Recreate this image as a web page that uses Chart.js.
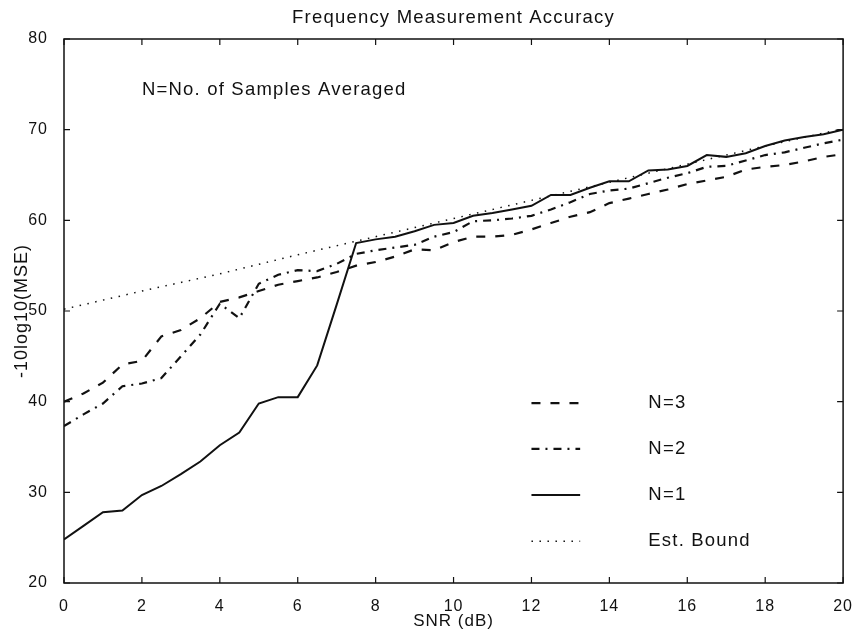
<!DOCTYPE html>
<html>
<head>
<meta charset="utf-8">
<title>Frequency Measurement Accuracy</title>
<script src="https://cdn.jsdelivr.net/npm/chart.js@4.4.1/dist/chart.umd.min.js"></script>
<style>
  html, body { margin: 0; padding: 0; background: #fff; }
  #wrap { width: 858px; height: 631px; }
</style>
</head>
<body>
<div id="wrap"><canvas id="accChart" width="858" height="631"></canvas></div>
<script>
// SNR sweep (dB)
const snr = [0, 0.5, 1, 1.5, 2, 2.5, 3, 3.5, 4, 4.5, 5, 5.5, 6, 6.5, 7, 7.5, 8, 8.5, 9, 9.5, 10,
             10.5, 11, 11.5, 12, 12.5, 13, 13.5, 14, 14.5, 15, 15.5, 16, 16.5, 17, 17.5, 18, 18.5, 19, 19.5, 20];

// -10log10(MSE) for each number of averaged samples
const n3 = [40.0, 40.9, 42.1, 44.1, 44.5, 47.2, 47.9, 49.2, 51.0, 51.5, 52.2, 52.9, 53.3, 53.7, 54.3, 55.0, 55.4, 56.0, 56.8, 56.7, 57.6,
            58.2, 58.2, 58.4, 59.0, 59.7, 60.4, 60.9, 61.9, 62.4, 62.9, 63.4, 64.0, 64.4, 64.8, 65.6, 65.9, 66.1, 66.5, 67.0, 67.3];
const n2 = [37.3, 38.6, 39.8, 41.7, 42.0, 42.6, 45.0, 47.4, 50.8, 49.2, 53.0, 54.0, 54.5, 54.4, 55.2, 56.3, 56.7, 57.0, 57.3, 58.2, 58.7,
            59.9, 60.0, 60.2, 60.5, 61.2, 62.0, 62.9, 63.3, 63.5, 64.1, 64.7, 65.2, 65.9, 66.0, 66.6, 67.2, 67.5, 68.0, 68.5, 68.9];
const n1 = [24.8, 26.3, 27.8, 28.0, 29.7, 30.7, 32.0, 33.4, 35.2, 36.6, 39.8, 40.5, 40.5, 44.0, 50.7, 57.5, 57.9, 58.2, 58.8, 59.5, 59.7,
            60.5, 60.8, 61.2, 61.6, 62.8, 62.8, 63.6, 64.3, 64.3, 65.5, 65.6, 66.0, 67.2, 67.0, 67.4, 68.2, 68.8, 69.2, 69.5, 70.0];

// estimated bound, read at every 2 dB
const boundSnr = [0, 2, 4, 6, 8, 10, 12, 14, 16, 18, 20];
const bound = [50.2, 52.2, 54.1, 56.2, 58.2, 60.2, 62.2, 64.2, 66.2, 68.2, 70.1];

const xTicks = [0, 2, 4, 6, 8, 10, 12, 14, 16, 18, 20];
const yTicks = [20, 30, 40, 50, 60, 70, 80];

const FONT = '"Liberation Sans", Arial, Helvetica, sans-serif';
const INK = '#111';

function pts(xs, ys) {
  return xs.map((x, i) => ({ x: x, y: ys[i] }));
}

// the old plotter font runs wide, so space all text out a little
const spacing = {
  id: 'spacing',
  beforeDraw(chart) { chart.ctx.letterSpacing = '1px'; }
};

// outer box plus MATLAB style inward ticks on all four sides
const frameTicks = {
  id: 'frameTicks',
  afterDatasetsDraw(chart) {
    const { ctx, chartArea: a, scales: { x, y } } = chart;
    ctx.save();
    ctx.strokeStyle = INK;
    ctx.lineWidth = 1.5;
    ctx.strokeRect(a.left, a.top, a.right - a.left, a.bottom - a.top);
    ctx.lineWidth = 1.2;
    ctx.beginPath();
    xTicks.forEach(v => {
      const px = x.getPixelForValue(v);
      ctx.moveTo(px, a.bottom); ctx.lineTo(px, a.bottom - 6);
      ctx.moveTo(px, a.top); ctx.lineTo(px, a.top + 6);
    });
    yTicks.forEach(v => {
      const py = y.getPixelForValue(v);
      ctx.moveTo(a.left, py); ctx.lineTo(a.left + 6, py);
      ctx.moveTo(a.right, py); ctx.lineTo(a.right - 6, py);
    });
    ctx.stroke();
    ctx.restore();
  }
};

// title, note and the in-plot key
const labels = {
  id: 'labels',
  afterDraw(chart) {
    const { ctx, chartArea: a, scales: { x, y } } = chart;
    ctx.save();
    ctx.fillStyle = INK;
    ctx.font = '18.5px ' + FONT;
    ctx.letterSpacing = '1.2px';
    ctx.textBaseline = 'middle';

    ctx.textAlign = 'center';
    ctx.fillText('Frequency Measurement Accuracy', (a.left + a.right) / 2, 18);

    ctx.textAlign = 'left';
    ctx.fillText('N=No. of Samples Averaged', x.getPixelForValue(2.0), y.getPixelForValue(74.4));

    const rows = [39.85, 34.8, 29.7, 24.6];
    chart.data.datasets.forEach((ds, i) => {
      const py = y.getPixelForValue(rows[i]);
      ctx.save();
      ctx.strokeStyle = ds.borderColor;
      ctx.lineWidth = ds.borderWidth;
      ctx.setLineDash(ds.borderDash || []);
      ctx.beginPath();
      ctx.moveTo(x.getPixelForValue(12.0), py);
      ctx.lineTo(x.getPixelForValue(13.25), py);
      ctx.stroke();
      ctx.restore();
      ctx.fillText(ds.label, x.getPixelForValue(15.0), py);
    });
    ctx.restore();
  }
};

new Chart(document.getElementById('accChart'), {
  type: 'line',
  data: {
    datasets: [
      { label: 'N=3', data: pts(snr, n3), borderColor: INK, borderWidth: 2.2, borderDash: [9, 10] },
      { label: 'N=2', data: pts(snr, n2), borderColor: INK, borderWidth: 2.2, borderDash: [8, 6, 2, 6] },
      { label: 'N=1', data: pts(snr, n1), borderColor: INK, borderWidth: 2 },
      { label: 'Est. Bound', data: pts(boundSnr, bound), borderColor: INK, borderWidth: 1.5, borderDash: [1.5, 6.5] }
    ]
  },
  options: {
    responsive: false,
    animation: false,
    devicePixelRatio: 1,
    layout: { padding: { top: 39, right: 14, left: 0, bottom: 0 } },
    elements: { point: { radius: 0 }, line: { tension: 0, fill: false } },
    plugins: {
      legend: { display: false },
      title: { display: false },
      tooltip: { enabled: false }
    },
    scales: {
      x: {
        type: 'linear',
        min: 0,
        max: 20,
        afterBuildTicks: s => { s.ticks = xTicks.map(v => ({ value: v })); },
        afterFit: s => { s.height = 48; },
        grid: { display: false },
        border: { display: false },
        ticks: { color: INK, font: { family: FONT, size: 16 }, padding: 6, maxRotation: 0 },
        title: { display: true, text: 'SNR (dB)', color: INK, font: { family: FONT, size: 17 }, padding: { top: 0, bottom: -1 } }
      },
      y: {
        min: 20,
        max: 80,
        afterBuildTicks: s => { s.ticks = yTicks.map(v => ({ value: v })); },
        afterFit: s => { s.width = 64; },
        grid: { display: false },
        border: { display: false },
        ticks: { color: INK, font: { family: FONT, size: 16 }, padding: 8 },
        title: { display: true, text: '-10log10(MSE)', color: INK, font: { family: FONT, size: 18 }, padding: { top: 11, bottom: 0 } }
      }
    }
  },
  plugins: [spacing, frameTicks, labels]
});
</script>
</body>
</html>
